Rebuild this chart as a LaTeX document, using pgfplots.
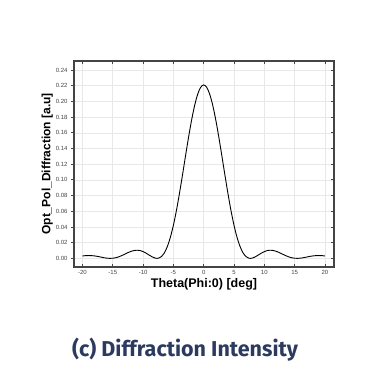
\documentclass[border=0pt]{standalone}
\usepackage{pgfplots}
\pgfplotsset{compat=1.18}
\usepackage{fontspec}
\setmainfont{Liberation Sans}
\newfontfamily\titlefont{Fira Sans}
\definecolor{navy}{HTML}{2B3A5E}
\definecolor{axgray}{HTML}{444444}
\definecolor{gridgray}{HTML}{E8E8E8}
\begin{document}
\begin{tikzpicture}[x=1pt,y=1pt]
\useasboundingbox (0,0) rectangle (373,390);
\pgfplotsset{
  myax/.style={
    width=260pt, height=206pt, scale only axis,
    at={(74pt,123pt)}, anchor=south west,
    xmin=-21.4, xmax=21.5, ymin=-0.011, ymax=0.2515,
    xtick={-20,-15,...,20}, ytick={0,0.02,...,0.24},
    axis line style={axgray, line width=1.2pt},
    major tick length=3pt,
    tick style={axgray, line width=0.8pt},
  }
}
\begin{axis}[myax,
  xtick pos=both, xtick align=inside,
  ytick pos=left, ytick align=outside,
  grid=major, major grid style={gridgray, line width=0.6pt},
  tick label style={font=\fontsize{6}{7}\selectfont, text=axgray},
  /pgf/number format/assume math mode=true,
  yticklabel style={/pgf/number format/.cd, fixed, fixed zerofill, precision=2},
  xlabel={\fontsize{12.5}{13}\selectfont\bfseries Theta(Phi:0) [deg]},
  ylabel={\fontsize{12}{13}\selectfont\bfseries Opt\_Pol\_Diffraction [a.u]},
  xlabel style={yshift=3pt},
  ylabel style={yshift=-4pt},
]
\addplot[black, line width=0.9pt, smooth] coordinates {
(-20,0.0030) (-19.5,0.0035) (-19,0.0036) (-18.5,0.0035) (-18,0.0031) (-17.5,0.0025) (-17,0.0017) (-16.5,0.0009) (-16,0.0003) (-15.5,0.0000) (-15,0.0002) (-14.5,0.0008) (-14,0.0020) (-13.5,0.0036) (-13,0.0054) (-12.5,0.0073) (-12,0.0089) (-11.5,0.0100) (-11,0.0104) (-10.5,0.0100) (-10,0.0086) (-9.5,0.0066) (-9,0.0042) (-8.5,0.0019) (-8,0.0003) (-7.7,0.0000) (-7.5,0.0002) (-7,0.0022) (-6.5,0.0069) (-6,0.0151) (-5.5,0.0268) (-5,0.0422) (-4.5,0.0610) (-4,0.0827) (-3.5,0.1062) (-3,0.1305) (-2.5,0.1542) (-2,0.1761) (-1.5,0.1947) (-1,0.2090) (-0.5,0.2180) (0,0.2210)
(0.5,0.2180) (1,0.2090) (1.5,0.1947) (2,0.1761) (2.5,0.1542) (3,0.1305) (3.5,0.1062) (4,0.0827) (4.5,0.0610) (5,0.0422) (5.5,0.0268) (6,0.0151) (6.5,0.0069) (7,0.0022) (7.5,0.0002) (7.7,0.0000) (8,0.0003) (8.5,0.0019) (9,0.0042) (9.5,0.0066) (10,0.0086) (10.5,0.0100) (11,0.0104) (11.5,0.0100) (12,0.0089) (12.5,0.0073) (13,0.0054) (13.5,0.0036) (14,0.0020) (14.5,0.0008) (15,0.0002) (15.5,0.0000) (16,0.0003) (16.5,0.0009) (17,0.0017) (17.5,0.0025) (18,0.0031) (18.5,0.0035) (19,0.0036) (19.5,0.0035) (20,0.0030)
};
\end{axis}
\begin{axis}[myax,
  xtick=\empty, ytick pos=right, ytick align=inside,
  yticklabels={}, axis line style={draw=none},
]
\end{axis}
\node[anchor=base, text=navy, font=\titlefont\fontsize{21.5}{23}\selectfont\bfseries] at (185,33) {(c) Diffraction Intensity};
\end{tikzpicture}
\end{document}
